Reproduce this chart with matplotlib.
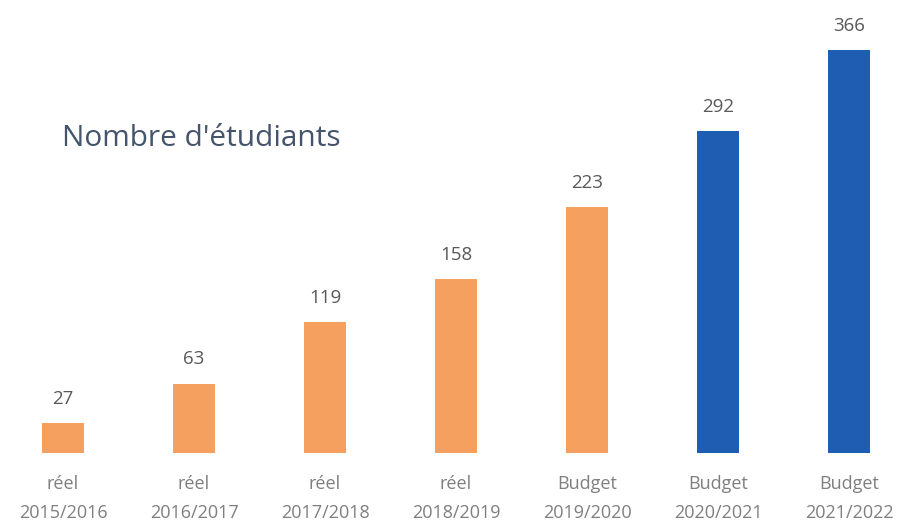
import numpy as np
import matplotlib
matplotlib.use('Agg')
import matplotlib.pyplot as plt

# data
kinds = ["réel", "réel", "réel", "réel", "Budget", "Budget", "Budget"]
years = ["2015/2016", "2016/2017", "2017/2018", "2018/2019",
         "2019/2020", "2020/2021", "2021/2022"]
students = [27, 63, 119, 158, 223, 292, 366]
colors = ["#F5A05E"] * 5 + ["#1F5DB3"] * 2

plt.rcParams['font.family'] = ['Open Sans', 'DejaVu Sans']

fig = plt.figure(figsize=(9, 5.23), dpi=100)
ax = fig.add_axes([0, 0.1338, 1, 0.8662])

x = np.arange(len(students))
bars = ax.bar(x, students, width=0.32, color=colors)

for xi, v in zip(x, students):
    ax.annotate(str(v), xy=(xi, v), xytext=(0, 11), textcoords='offset points',
                ha='center', va='bottom', fontsize=13.5, color='#595959')

ax.set_xlim(-0.481, 6.389)
ax.set_ylim(0, 411.4)
ax.set_xticks(x)
ax.set_xticklabels([k + "\n" + y for k, y in zip(kinds, years)],
                   fontsize=13, color='#7F7F7F', linespacing=1.75)
ax.tick_params(axis='x', length=0, pad=16)
ax.set_yticks([])
for s in ax.spines.values():
    s.set_visible(False)

fig.text(0.069, 0.735, "Nombre d'étudiants", fontsize=21.5, color='#44546A',
         ha='left', va='center')

fig.savefig('out.png', dpi=100)
